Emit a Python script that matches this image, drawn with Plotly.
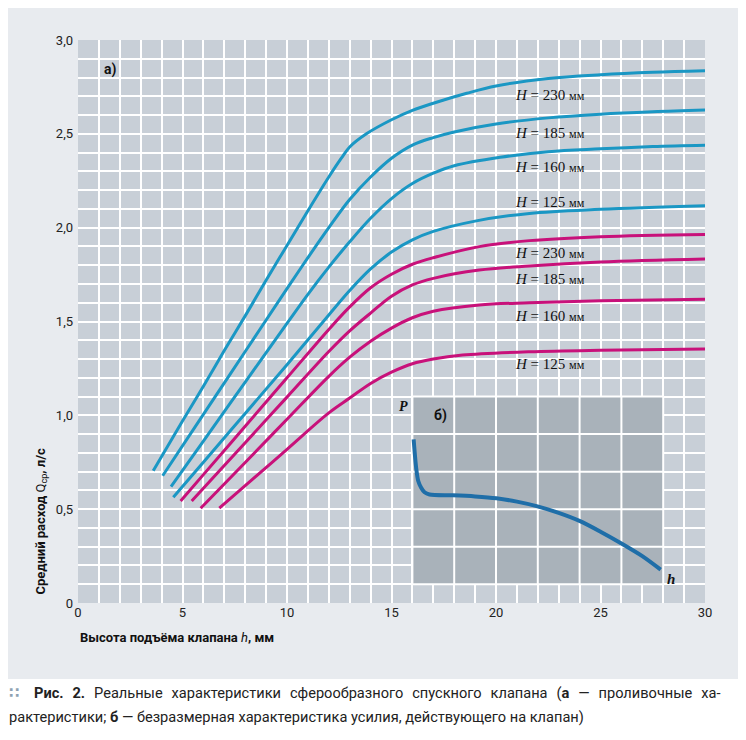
import plotly.graph_objects as go

# ---------------- data ----------------
# blue family
b230_h = [3.6, 5, 6, 7, 8, 9, 10, 11, 12, 12.6, 13, 13.8, 15, 16, 17, 18.6, 20, 22.5, 25, 27.5, 30]
b230_q = [0.705, 0.97, 1.155, 1.345, 1.53, 1.72, 1.905, 2.09, 2.27, 2.37, 2.43, 2.50, 2.575, 2.625, 2.663, 2.716, 2.755, 2.795, 2.815, 2.828, 2.836]
b185_h = [4.05, 6, 8, 10, 11, 12, 13, 14, 15, 16, 17, 18, 20, 22.5, 25, 27.5, 30]
b185_q = [0.678, 1.005, 1.34, 1.675, 1.84, 2.0, 2.15, 2.27, 2.37, 2.44, 2.48, 2.51, 2.552, 2.585, 2.605, 2.618, 2.627]
b160_h = [4.45, 6, 8, 10, 11, 12, 13, 14, 15, 16, 17, 18, 20.2, 22.5, 25, 27.5, 30]
b160_q = [0.62, 0.863, 1.177, 1.49, 1.645, 1.79, 1.925, 2.05, 2.155, 2.235, 2.29, 2.33, 2.375, 2.405, 2.42, 2.432, 2.439]
b125_h = [4.56, 6, 8, 10, 12, 13, 14, 15, 16, 17, 19, 21.6, 25, 30]
b125_q = [0.563, 0.75, 1.01, 1.27, 1.535, 1.665, 1.78, 1.87, 1.935, 1.98, 2.035, 2.076, 2.098, 2.117]
# magenta family
m230_h = [4.91, 6, 8, 10, 12, 13, 14, 15, 16, 17, 19.2, 21.6, 25, 30]
m230_q = [0.543, 0.684, 0.942, 1.2, 1.458, 1.578, 1.68, 1.752, 1.805, 1.84, 1.899, 1.931, 1.952, 1.964]
m185_h = [5.44, 8, 10, 12, 13, 14, 15, 16, 17, 19.2, 21.6, 25, 30]
m185_q = [0.543, 0.854, 1.097, 1.34, 1.45, 1.545, 1.635, 1.695, 1.73, 1.774, 1.796, 1.817, 1.833]
m160_h = [5.87, 8, 10, 12, 13, 14, 15, 16, 17, 19.2, 21.6, 25, 30]
m160_q = [0.505, 0.749, 0.979, 1.208, 1.31, 1.395, 1.465, 1.52, 1.555, 1.588, 1.60, 1.61, 1.618]
m125_h = [6.76, 8, 10, 12, 13, 14, 15, 16, 17, 18.4, 21.6, 25, 30]
m125_q = [0.505, 0.625, 0.819, 1.013, 1.092, 1.17, 1.23, 1.275, 1.30, 1.321, 1.339, 1.347, 1.353]

blue_labels = ["230", "185", "160", "125"]
magenta_labels = ["230", "185", "160", "125"]

# inset (б): dimensionless force P vs h (inset grid units)
inset_h = [0.03, 0.09, 0.14, 0.21, 0.29, 0.41, 0.97, 1.5, 2.01, 2.5, 2.97, 3.5, 4.01, 4.5, 4.98, 5.5, 5.94]
inset_p = [3.86, 3.10, 2.75, 2.57, 2.45, 2.39, 2.37, 2.34, 2.29, 2.20, 2.08, 1.90, 1.68, 1.40, 1.10, 0.75, 0.39]

x_ticks = [0, 5, 10, 15, 20, 25, 30]
x_ticktext = ["0", "5", "10", "15", "20", "25", "30"]
y_ticks = [0, 0.5, 1.0, 1.5, 2.0, 2.5, 3.0]
y_ticktext = ["0", "0,5", "1,0", "1,5", "2,0", "2,5", "3,0"]

# ---------------- styling ----------------
BLUE = "#1a97c4"
MAG = "#c8117a"
INSET_LINE = "#1f6ea8"
PLOT_BG = "#c8cfd7"
PANEL_BG = "#e8ebef"
INSET_BG = "#a9b2ba"
NARROW = "Liberation Sans Narrow, Roboto, sans-serif"
SERIF = "Liberation Serif, DejaVu Serif, serif"
SMOOTH = 1.0

X_MAX, Y_MAX = 30, 3.0
# inset panel extent in main-axis units
inset_x0, inset_x1 = 16, 28
inset_y0, inset_y1 = 0.1, 1.1
inset_gx = [16, 18, 20, 22, 24, 26, 28]
inset_gy = [0.1, 0.3, 0.5, 0.7, 0.9, 1.1]
# inset units: 6 x 5 grid cells
inset_ux = (inset_x1 - inset_x0) / 6.0
inset_vy = (inset_y1 - inset_y0) / 5.0

fig = go.Figure()

blue_series = [(b230_h, b230_q), (b185_h, b185_q), (b160_h, b160_q), (b125_h, b125_q)]
mag_series = [(m230_h, m230_q), (m185_h, m185_q), (m160_h, m160_q), (m125_h, m125_q)]

for (hh, qq), lab in zip(blue_series, blue_labels):
    fig.add_trace(go.Scatter(x=hh, y=qq, mode="lines", name="H=" + lab,
                             line=dict(color=BLUE, width=3, shape="spline", smoothing=SMOOTH),
                             showlegend=False, hoverinfo="skip"))
for (hh, qq), lab in zip(mag_series, magenta_labels):
    fig.add_trace(go.Scatter(x=hh, y=qq, mode="lines", name="H=" + lab,
                             line=dict(color=MAG, width=3, shape="spline", smoothing=SMOOTH),
                             showlegend=False, hoverinfo="skip"))

# inset background (drawn above the main grid)
fig.add_trace(go.Scatter(x=[inset_x0, inset_x1, inset_x1, inset_x0, inset_x0],
                         y=[inset_y0, inset_y0, inset_y1, inset_y1, inset_y0],
                         mode="lines", fill="toself", fillcolor=INSET_BG,
                         line=dict(width=0, color=INSET_BG), showlegend=False, hoverinfo="skip"))
# inset grid
gx, gy = [], []
for v in inset_gx:
    gx += [v, v, None]
    gy += [inset_y0, inset_y1, None]
for v in inset_gy:
    gx += [inset_x0, inset_x1, None]
    gy += [v, v, None]
fig.add_trace(go.Scatter(x=gx, y=gy, mode="lines", line=dict(color="white", width=2),
                         showlegend=False, hoverinfo="skip", connectgaps=False))

# inset curve on overlaying axes whose ranges map inset units onto the inset panel
x2_range = [-inset_x0 / inset_ux, (X_MAX - inset_x0) / inset_ux]
y2_range = [-inset_y0 / inset_vy, (Y_MAX - inset_y0) / inset_vy]
fig.add_trace(go.Scatter(x=inset_h, y=inset_p, mode="lines", xaxis="x2", yaxis="y2",
                         line=dict(color=INSET_LINE, width=4, shape="spline", smoothing=0.8),
                         showlegend=False, hoverinfo="skip"))

fig.update_layout(
    width=738, height=732,
    margin=dict(l=70, r=41, t=32, b=137),
    paper_bgcolor=PANEL_BG,
    plot_bgcolor=PLOT_BG,
    showlegend=False,
    xaxis=dict(range=[0, X_MAX], tickvals=x_ticks, ticktext=x_ticktext,
               showgrid=True, gridcolor="white", gridwidth=2,
               minor=dict(dtick=1, showgrid=True, gridcolor="white", gridwidth=2),
               zeroline=False, showline=False, ticks="",
               tickfont=dict(family=NARROW, size=13, color="#222")),
    yaxis=dict(range=[0, Y_MAX], tickvals=y_ticks, ticktext=y_ticktext,
               showgrid=True, gridcolor="white", gridwidth=2,
               minor=dict(dtick=0.1, showgrid=True, gridcolor="white", gridwidth=2),
               zeroline=False, showline=False, ticks="", ticklabelstandoff=4,
               tickfont=dict(family=NARROW, size=13, color="#222")),
    xaxis2=dict(overlaying="x", range=x2_range, visible=False, showgrid=False, zeroline=False),
    yaxis2=dict(overlaying="y", range=y2_range, visible=False, showgrid=False, zeroline=False),
)

# conversions from window pixels (figure is offset by the 8px page margin) to paper coords
def px_x(px):
    return (px - 78) / 627.0
def px_y(py):
    return (603 - py) / 563.0

shapes = []
white = dict(type="rect", xref="paper", yref="paper", fillcolor="white", line=dict(width=0), layer="below")
shapes.append(dict(white, x0=px_x(0), x1=px_x(760), y0=px_y(760), y1=px_y(679)))
shapes.append(dict(white, x0=px_x(742), x1=px_x(760), y0=px_y(760), y1=px_y(0)))
fig.update_layout(shapes=shapes)

ann = []
# curve labels
blue_label_q = [2.707, 2.506, 2.321, 2.138]
mag_label_q = [1.863, 1.725, 1.531, 1.274]
label_h = 20.8
for lab, q in zip(blue_labels, blue_label_q):
    ann.append(dict(x=label_h, y=q, xref="x", yref="y", xanchor="left", yanchor="middle", showarrow=False,
                    text="<i>H</i> = " + lab + " <span style='font-size:12px'>мм</span>",
                    font=dict(family=SERIF, size=15, color="#111")))
for lab, q in zip(magenta_labels, mag_label_q):
    ann.append(dict(x=label_h, y=q, xref="x", yref="y", xanchor="left", yanchor="middle", showarrow=False,
                    text="<i>H</i> = " + lab + " <span style='font-size:12px'>мм</span>",
                    font=dict(family=SERIF, size=15, color="#111")))

# panel labels
ann.append(dict(x=1.15, y=2.845, xref="x", yref="y", xanchor="left", yanchor="middle", showarrow=False,
                text="<b>а)</b>", font=dict(family=NARROW, size=14, color="#111")))
ann.append(dict(x=16.95, y=1.0, xref="x", yref="y", xanchor="left", yanchor="middle", showarrow=False,
                text="<b>б)</b>", font=dict(family=NARROW, size=14, color="#111")))
ann.append(dict(x=15.55, y=1.045, xref="x", yref="y", xanchor="center", yanchor="middle", showarrow=False,
                text="<b><i>P</i></b>", font=dict(family=SERIF, size=14, color="#111")))
ann.append(dict(x=28.35, y=0.13, xref="x", yref="y", xanchor="center", yanchor="middle", showarrow=False,
                text="<b><i>h</i></b>", font=dict(family=SERIF, size=15, color="#111")))

# axis titles
ann.append(dict(x=0, y=px_y(637), xref="paper", yref="paper", xanchor="left", yanchor="middle", showarrow=False,
                text="<b>Высота подъёма клапана </b><i>h</i><b>, мм</b>",
                font=dict(family=NARROW, size=13, color="#111")))
ann.append(dict(x=px_x(41), y=px_y(597), xref="paper", yref="paper", xanchor="center", yanchor="bottom",
                showarrow=False, textangle=-90,
                text="<b>Средний расход </b>Q<sub>ср</sub><b>, л/с</b>",
                font=dict(family=NARROW, size=13, color="#111")))

# caption (first line is justified in the original, so its word gaps are widened)
GAP = "\u2002\u200a"
line1 = GAP.join(["<b>Рис.", "2.</b>", "Реальные", "характеристики", "сферообразного", "спускного",
                  "клапана", "(<b>а</b>", "—", "проливочные", "ха-"])
ann.append(dict(x=px_x(7), y=px_y(693), xref="paper", yref="paper", xanchor="left", yanchor="middle",
                showarrow=False,
                text="<span style='color:#8ea2b2'><b>∷</b></span>\u2002\u2002" + line1,
                font=dict(family="Roboto, DejaVu Sans, sans-serif", size=14.6, color="#222")))
ann.append(dict(x=px_x(7), y=px_y(717), xref="paper", yref="paper", xanchor="left", yanchor="middle",
                showarrow=False,
                text="рактеристики; <b>б</b> — безразмерная характеристика усилия, действующего на клапан)",
                font=dict(family="Roboto, DejaVu Sans, sans-serif", size=14.6, color="#222")))

fig.update_layout(annotations=ann)

fig.write_html("out.html")
